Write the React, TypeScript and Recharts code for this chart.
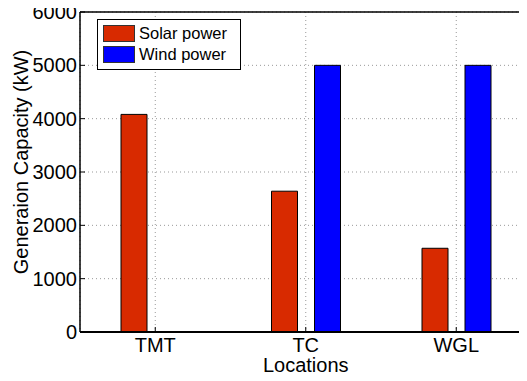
import type { FC } from 'react';
import {
  BarChart,
  Bar,
  XAxis,
  YAxis,
  CartesianGrid,
  Legend,
} from 'recharts';

const locations = ['TMT', 'TC', 'WGL'];
const solarPower = [4080, 2640, 1570];
const windPower = [0, 5000, 5000];
const yTicks = [0, 1000, 2000, 3000, 4000, 5000, 6000];

const data = locations.map((name, i) => ({
  name,
  solar: solarPower[i],
  wind: windPower[i],
}));

const FONT = 'Liberation Sans, Arial, Helvetica, sans-serif';
const SOLAR = '#d82a00';
const WIND = '#0000ff';

const LegendBox: FC = () => (
  <div
    style={{
      border: '1px solid #000',
      background: '#fff',
      padding: '3px 6px 3px 5px',
      fontFamily: FONT,
      fontSize: 16.5,
      lineHeight: '21px',
      whiteSpace: 'nowrap',
      display: 'inline-block',
      boxSizing: 'border-box',
      width: 144,
      height: 51,
    }}
  >
    {[
      { label: 'Solar power', color: SOLAR },
      { label: 'Wind power', color: WIND },
    ].map((item) => (
      <div key={item.label} style={{ display: 'flex', alignItems: 'center', height: 21 }}>
        <span
          style={{
            display: 'inline-block',
            width: 30,
            height: 15,
            background: item.color,
            border: '1px solid #333',
            marginRight: 4,
          }}
        />
        <span>{item.label}</span>
      </div>
    ))}
  </div>
);

// axis titles drawn by hand so they sit where matlab put them
const YTitle = () => {
  const cx = 20;
  const cy = 162;
  return (
    <text
      x={cx}
      y={cy}
      transform={`rotate(-90 ${cx} ${cy})`}
      textAnchor="middle"
      fontFamily={FONT}
      fontSize={20}
      fill="#000"
    >
      Generaion Capacity (kW)
    </text>
  );
};

const XTitle = (props: any) => {
  const { viewBox } = props;
  const cx = viewBox.x + viewBox.width / 2;
  return (
    <text x={cx} y={372} textAnchor="middle" fontFamily={FONT} fontSize={20} fill="#000">
      Locations
    </text>
  );
};

const App: FC = () => {
  return (
    <div style={{ width: 519, height: 381, overflow: 'hidden', marginTop: -8 }}>
      <BarChart
        width={530}
        height={381}
        data={data}
        margin={{ top: 11, right: 6.5, bottom: 0, left: 0 }}
        barSize={26}
        barGap={17}
      >
        <CartesianGrid stroke="#999" strokeDasharray="1 3" />
        <XAxis
          dataKey="name"
          height={49}
          axisLine={{ stroke: '#000', strokeWidth: 2 }}
          tickLine={{ stroke: '#000' }}
          tickSize={-5}
          tickMargin={11}
          tick={{ fontSize: 20, fill: '#000', fontFamily: FONT }}
          label={<XTitle />}
        />
        <XAxis
          xAxisId="top"
          orientation="top"
          dataKey="name"
          height={1}
          axisLine={{ stroke: '#000', strokeWidth: 1.5 }}
          tickLine={{ stroke: '#000' }}
          tickSize={-5}
          tick={false}
        />
        <YAxis
          width={72}
          domain={[0, 6000]}
          ticks={yTicks}
          interval={0}
          axisLine={{ stroke: '#000', strokeWidth: 1.5 }}
          tickLine={{ stroke: '#000' }}
          tickSize={-5}
          tickMargin={8}
          tick={{ fontSize: 20, fill: '#000', fontFamily: FONT }}
          label={<YTitle />}
        />
        <Legend
          content={<LegendBox />}
          layout="horizontal"
          verticalAlign="middle"
          align="center"
          wrapperStyle={{ left: 89, top: 19, width: 144, height: 51 }}
        />
        <Bar
          dataKey="solar"
          name="Solar power"
          fill={SOLAR}
          stroke="#000"
          strokeWidth={1}
          isAnimationActive={false}
        />
        <Bar
          dataKey="wind"
          name="Wind power"
          fill={WIND}
          stroke="#000"
          strokeWidth={1}
          isAnimationActive={false}
        />
      </BarChart>
    </div>
  );
};

export default App;
